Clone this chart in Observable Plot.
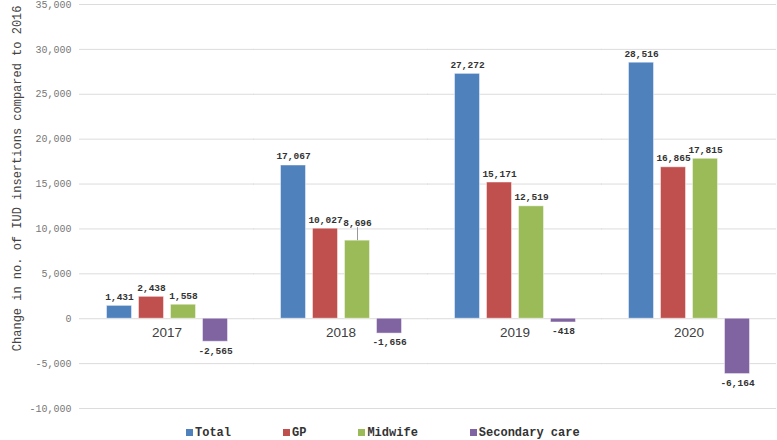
<!DOCTYPE html>
<html>
<head>
<meta charset="utf-8">
<script src="https://cdn.jsdelivr.net/npm/d3@7"></script>
<script src="https://cdn.jsdelivr.net/npm/@observablehq/plot@0.6"></script>
<style>
  html, body { margin: 0; padding: 0; background: #fff; }
  #chart { width: 777px; }
  .legend { display: flex; gap: 52px; padding-left: 186px; padding-top: 5px; height: 20px; box-sizing: border-box;
            align-items: center; line-height: 14px;
            font-family: "Liberation Mono", monospace; font-weight: bold; font-size: 12px; color: #333; }
  .legend span.sw { display: inline-block; width: 7px; height: 7px; margin-right: 2px; vertical-align: 0px; }
</style>
</head>
<body>
<div id="chart"></div>
<script>
// Change in number of IUD insertions compared with 2016, by provider
const years = ["2017", "2018", "2019", "2020"];
const series = ["Total", "GP", "Midwife", "Secondary care"];
const total = [1431, 17067, 27272, 28516];
const gp = [2438, 10027, 15171, 16865];
const midwife = [1558, 8696, 12519, 17815];
const secondary = [-2565, -1656, -418, -6164];
const colors = ["#4f81bd", "#c0504d", "#9bbb59", "#8064a2"];
const yTicks = [-10000, -5000, 0, 5000, 10000, 15000, 20000, 25000, 30000, 35000];

const valuesBySeries = [total, gp, midwife, secondary];
const rows = [];
years.forEach((year, i) => {
  series.forEach((s, j) => rows.push({year, series: s, value: valuesBySeries[j][i]}));
});

const fmt = d3.format(",");
const mono = "Liberation Mono, Courier New, monospace";
const firstYear = () => years[0];
// the one label lifted above its neighbour, with a leader line down to its bar
const lifted = d => d.year === "2018" && d.series === "Midwife";
const labelStyle = {fontFamily: mono, fontSize: 9.5, fontWeight: "bold", fill: "#333"};

const chart = Plot.plot({
  width: 777,
  height: 420,
  marginTop: 4,
  marginBottom: 12,
  marginLeft: 104.5,
  marginRight: 27.5,
  fx: {domain: years, paddingInner: 0.307, paddingOuter: 0, axis: null, label: null},
  x: {domain: series, paddingInner: 0.22, paddingOuter: 0, axis: null},
  y: {domain: [-10000, 35000], axis: null},
  color: {domain: series, range: colors},
  marks: [
    // gridlines: each panel's rules reach halfway into the gaps so they join up
    Plot.ruleY(yTicks, {stroke: "#dcdcdc", strokeWidth: 1, insetLeft: -27, insetRight: -27}),
    Plot.text(yTicks, {fx: firstYear, y: d => d, text: d => fmt(d).replace("−", "-"), frameAnchor: "left",
      textAnchor: "end", dx: -35, fontFamily: mono, fontSize: 10, fill: "#777"}),
    Plot.text(["Change in no. of IUD insertions compared to 2016"], {fx: firstYear, frameAnchor: "top-left",
      rotate: -90, textAnchor: "end", dx: -94.5, dy: 1, fontFamily: mono, fontSize: 12, fill: "#444"}),
    Plot.barY(rows, {fx: "year", x: "series", y: "value", fill: "series",
      stroke: "#fff", strokeOpacity: 0.45, strokeWidth: 1}),
    Plot.text(years, {fx: d => d, y: 0, text: d => d, dy: 14,
      fontFamily: "Liberation Sans, Arial, sans-serif", fontSize: 13.5, fill: "#404040"}),
    Plot.text(rows.filter(d => d.value >= 0 && !lifted(d)), {fx: "year", x: "series", y: "value",
      text: d => fmt(d.value), lineAnchor: "bottom", dy: -6, ...labelStyle}),
    Plot.text(rows.filter(lifted), {fx: "year", x: "series", y: "value", text: d => fmt(d.value),
      lineAnchor: "bottom", dy: -15, ...labelStyle}),
    Plot.ruleX(rows.filter(lifted), {fx: "year", x: "series", y1: "value", y2: "value", insetTop: -13,
      stroke: "#999", strokeWidth: 1}),
    Plot.text(rows.filter(d => d.value < 0), {fx: "year", x: "series", y: "value",
      text: d => fmt(d.value).replace("−", "-"), lineAnchor: "top", dy: 5, ...labelStyle})
  ]
});
document.getElementById("chart").append(chart);

const legend = document.createElement("div");
legend.className = "legend";
series.forEach((s, i) => {
  const item = document.createElement("div");
  const sw = document.createElement("span");
  sw.className = "sw";
  sw.style.background = colors[i];
  item.append(sw, document.createTextNode(s));
  legend.append(item);
});
document.getElementById("chart").append(legend);
</script>
</body>
</html>
